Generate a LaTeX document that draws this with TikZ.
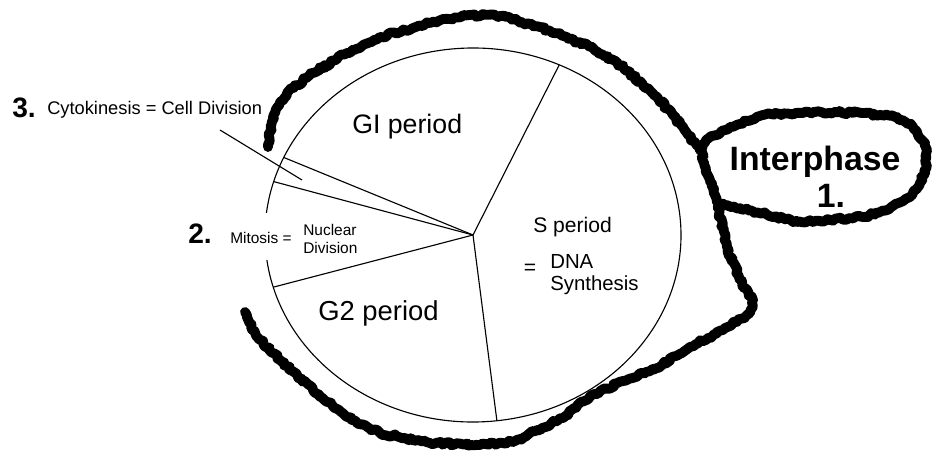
\documentclass[tikz,border=0pt]{standalone}
\usepackage{fontspec}
\setmainfont{Liberation Sans}
\usetikzlibrary{decorations.pathmorphing}

\tikzset{
  scribble/.style={line width=7pt, line cap=round, line join=round,
    decorate, decoration={random steps, segment length=2pt, amplitude=1.1pt}},
  rim/.style={line width=0.8pt},
  spoke/.style={line width=0.8pt},
  phase/.style={inner sep=0pt, anchor=base west},
  num/.style={inner sep=0pt, anchor=base west, font=\bfseries\fontsize{20}{24}\selectfont}
}

\begin{document}
\begin{tikzpicture}[x=0.25mm, y=0.25mm]
    \pgfmathsetseed{7}
    \useasboundingbox (0,0) rectangle (941,454);
    % the cycle
    \coordinate (C) at (473,219);
    \draw[rim] ([shift={(187.7:52mm and 46.75mm)}]C) arc[start angle=187.7, end angle=533.2, x radius=52mm, y radius=46.75mm];
    \coordinate (A) at ([shift={(65.5:52mm and 46.75mm)}]C);
    \coordinate (B) at ([shift={(-83.4:52mm and 46.75mm)}]C);
    \coordinate (D) at ([shift={(196.2:52mm and 46.75mm)}]C);
    \coordinate (E) at ([shift={(163.4:52mm and 46.75mm)}]C);
    \coordinate (F) at ([shift={(155.5:52mm and 46.75mm)}]C);
    \foreach \p in {A,B,D,E,F}
        \draw[spoke] (C) -- (\p);

    % rough outline round interphase
    \draw[scribble] plot coordinates {(268,307) (273,337) (287,361) (313,381) (347,401) (380,417) (430,431) (470,439) (500,438) (540,427) (590,407) (623,387) (657,357) (683,327) (700,304) (706,285) (717,252) (727,207) (740,174) (753,154) (750,141) (723,124) (690,107) (657,86) (623,73) (590,58) (563,36) (537,24) (513,12) (480,9) (430,11) (380,21) (347,37) (313,64) (280,94) (257,117) (245,142)};
    \draw[scribble] plot coordinates {(717,252) (730,247) (763,241) (797,232) (830,234) (863,237) (887,244) (910,257) (920,271) (927,287) (925,311) (913,327) (897,337) (863,341) (813,342) (763,339) (730,327) (710,317) (700,304)};

    % labels
    \node[phase, font=\fontsize{19}{23}\selectfont] (g1) at (352,321) {GI period};
    \node[phase, font=\fontsize{19.5}{23}\selectfont] (g2) at (318,134) {G2 period};
    \node[phase, font=\fontsize{15}{18}\selectfont] (s) at (533,222) {S period};
    \node[inner sep=0pt, font=\fontsize{15}{18}\selectfont] (eq) at (530,185) {=};
    \node[phase, font=\fontsize{14.5}{17}\selectfont] (dna) at (550,186) {DNA};
    \node[phase, font=\fontsize{14.5}{17}\selectfont] (syn) at (550,164) {Synthesis};

    \node[num] (n3) at (12,337) {3.};
    \node[phase, font=\fontsize{13}{15}\selectfont] (cyto) at (47,340) {Cytokinesis = Cell Division};
    \coordinate (ptr) at (220,324);
    \coordinate (tip) at (302,274);
    \draw[spoke] (ptr) -- (tip);

    \node[num] (n2) at (188,211) {2.};
    \node[phase, font=\fontsize{11}{13}\selectfont] (mito) at (230,211) {Mitosis =};
    \node[phase, font=\fontsize{11}{13}\selectfont] (nuc) at (303,219) {Nuclear};
    \node[phase, font=\fontsize{11}{13}\selectfont] (div) at (303,201) {Division};

    \node[inner sep=0pt, anchor=base, font=\bfseries\fontsize{24}{28}\selectfont] (inter) at (815,284) {Interphase};
    \node[inner sep=0pt, anchor=base, font=\bfseries\fontsize{24}{28}\selectfont] (n1) at (831,247) {1.};
\end{tikzpicture}
\end{document}
